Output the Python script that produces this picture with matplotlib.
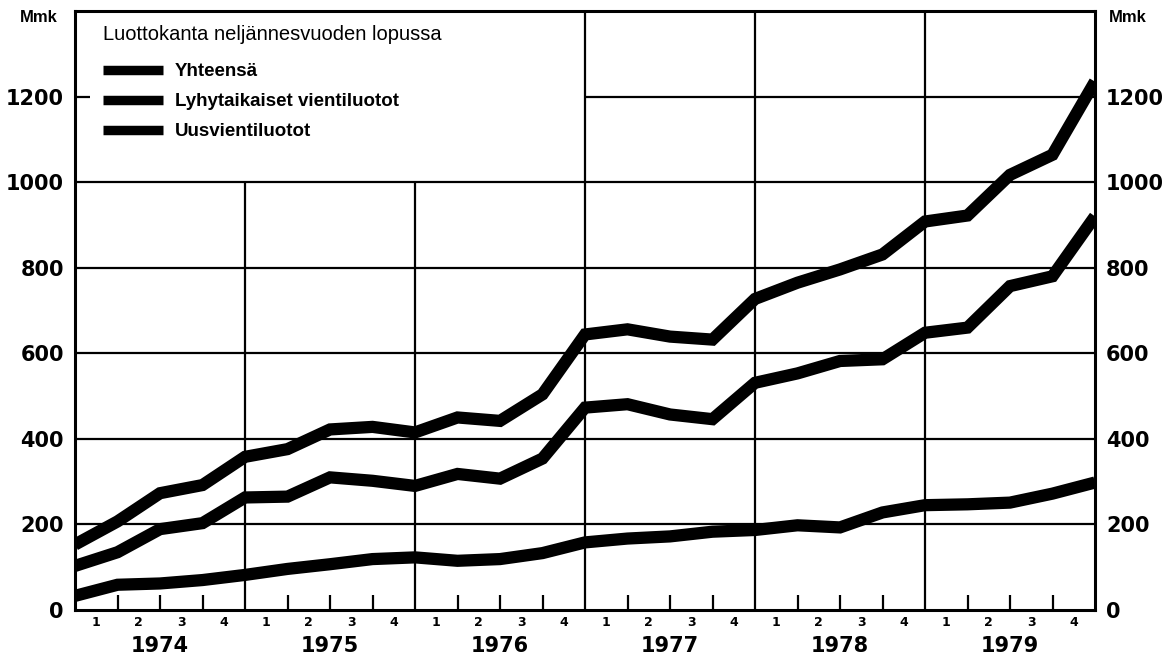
import matplotlib
matplotlib.use("Agg")
import matplotlib.pyplot as plt
from matplotlib.lines import Line2D
from matplotlib.transforms import blended_transform_factory

# ---- data (quarter-end credit stock, Mmk) ----
years = ["1974", "1975", "1976", "1977", "1978", "1979"]
quarters = ["1", "2", "3", "4"]
yticks = [0, 200, 400, 600, 800, 1000, 1200]
series_names = ["Yhteensä", "Lyhytaikaiset vientiluotot", "Uusvientiluotot"]
legend_title = "Luottokanta neljännesvuoden lopussa"
unit = "Mmk"

total = [153, 207, 273, 292, 358, 376, 422, 428, 415, 450, 442, 504, 644,
         656, 639, 632, 727, 765, 796, 831, 908, 922, 1017, 1064, 1235]
short_term = [103, 135, 189, 203, 263, 265, 310, 302, 290, 318, 307, 354, 473,
              481, 457, 446, 531, 553, 582, 586, 648, 660, 757, 780, 920]
new_export = [33, 59, 62, 70, 82, 96, 107, 119, 123, 115, 119, 133, 158,
              167, 172, 183, 187, 198, 193, 228, 245, 247, 251, 272, 298]

W, H = 1176, 658
fig = plt.figure(figsize=(W / 100, H / 100), dpi=100)
L, R, T, B = 75, 1095, 11, 610
ax = fig.add_axes([L / W, 1 - B / H, (R - L) / W, (B - T) / H])

n_q = len(years) * 4
xs = list(range(n_q + 1))
ax.set_xlim(0, n_q)
ax.set_ylim(0, 1400)

black = "black"
grid_lw = 1.6
# horizontal gridlines
for v in yticks[1:]:
    if v == 1200:
        ax.hlines(v, 12, n_q, color=black, lw=grid_lw, zorder=1)
    else:
        ax.hlines(v, 0, n_q, color=black, lw=grid_lw, zorder=1)
# vertical year lines
for k in range(1, len(years)):
    x = 4 * k
    top = 1000 if x < 12 else 1400
    ax.vlines(x, 0, top, color=black, lw=grid_lw, zorder=1)
# short tick at 1200 on the left
ax.hlines(1200, 0, 0.35, color=black, lw=grid_lw, zorder=1)
# quarter ticks
for k in range(len(years)):
    for q in range(1, 4):
        ax.vlines(4 * k + q, 0, 34, color=black, lw=grid_lw, zorder=1)

lw = 8.8
for data in (total, short_term, new_export):
    ax.plot(xs, data, color=black, lw=lw, solid_joinstyle="miter",
            solid_capstyle="butt", zorder=3)

for s in ax.spines.values():
    s.set_linewidth(2.2)
    s.set_color(black)

ax.set_xticks([])
ax.set_yticks(yticks)
ax.set_yticklabels([str(v) for v in yticks])
ax.tick_params(axis="y", length=0, pad=8, labelsize=15, left=True, right=True,
               labelleft=True, labelright=True)
for lab in ax.get_yticklabels():
    lab.set_fontweight("bold")
    lab.set_fontfamily("DejaVu Sans")

trans = blended_transform_factory(ax.transData, ax.transAxes)
px = 1.0 / (B - T)
for k, yr in enumerate(years):
    for q, ql in enumerate(quarters):
        ax.text(4 * k + q + 0.5, -13 * px, ql, transform=trans, ha="center",
                va="center", fontsize=9, fontweight="bold",
                family="DejaVu Sans")
    ax.text(4 * k + 2, -36 * px, yr, transform=trans, ha="center",
            va="center", fontsize=15, fontweight="bold", family="DejaVu Sans")

fig.text(39 / W, 1 - 18 / H, unit, ha="center", va="center", fontsize=12,
         fontweight="bold", family="Liberation Sans")
fig.text(1128 / W, 1 - 18 / H, unit, ha="center", va="center", fontsize=12,
         fontweight="bold", family="Liberation Sans")

# legend
fig.text(103 / W, 1 - 34 / H, legend_title, ha="left", va="center",
         fontsize=14.5, family="Liberation Sans")
for i, name in enumerate(series_names):
    yy = 1 - (70 + 30 * i) / H
    fig.add_artist(Line2D([103 / W, 163 / W], [yy, yy], color=black, lw=6.8,
                          solid_capstyle="butt"))
    fig.text(175 / W, yy - 1 / H, name, ha="left", va="center", fontsize=13.5,
             fontweight="bold", family="Liberation Sans")

fig.savefig("out.png", dpi=100, facecolor="white")
